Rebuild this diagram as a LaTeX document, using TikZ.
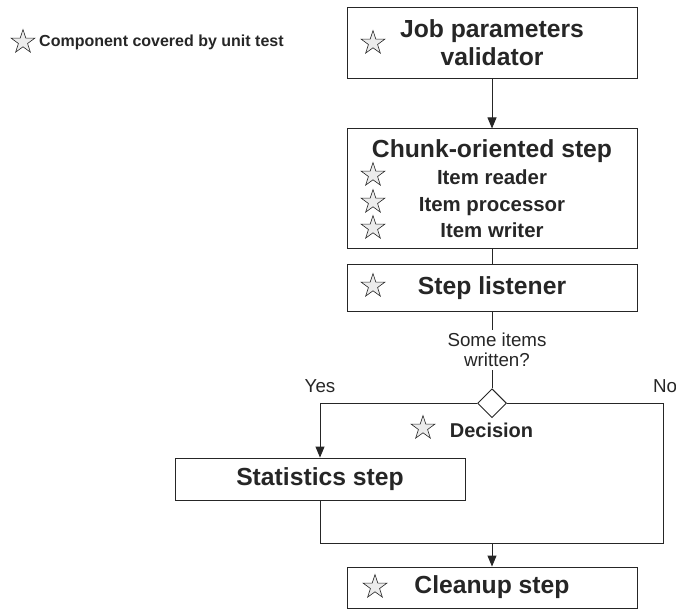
\documentclass[tikz,border=0pt]{standalone}
\usepackage{fontspec}
\setmainfont{Liberation Sans}
\usetikzlibrary{shapes.geometric, arrows.meta, positioning}

\begin{document}
\begin{tikzpicture}[x=1pt, y=-1pt,
  box/.style={rectangle, draw=black!85, line width=0.9pt, minimum width=290pt, inner sep=0pt, align=center, text=black!85, font=\bfseries\fontsize{24.7}{28}\selectfont},
  tick/.style={star, star points=5, star point ratio=2.6, draw=black!85, line width=0.6pt, fill=gray!15, minimum size=25pt, inner sep=0pt},
  decision/.style={diamond, aspect=1, draw=black!85, line width=0.9pt, minimum size=29pt, inner sep=0pt},
  lbl/.style={text=black!85, font=\fontsize{18.75}{20}\selectfont, inner sep=0pt, align=center},
  wire/.style={draw=black!85, line width=0.9pt},
  arrow/.style={wire, -{Triangle[length=11pt, width=9pt]}}]
  \useasboundingbox (0,0) rectangle (676,609);
  % legend
  \node[tick] (keystar) at (23,42) {};
  \node[lbl, anchor=base west, font=\bfseries\fontsize{16}{18}\selectfont] (keytext) at (39,46.7) {Component covered by unit test};
  % main column
  \node[box, minimum height=71pt] (job) at (492,42.5) {Job parameters\\validator};
  \node[box, minimum height=120pt, below=50pt of job, font=\bfseries\fontsize{20.4}{26.7}\selectfont] (chunk) {{\fontsize{24.7}{26.7}\selectfont Chunk-oriented step}\\Item reader\\Item processor\\Item writer};
  \node[box, minimum height=47pt, below=15pt of chunk] (listener) {Step listener};
  \node[decision, below=76pt of listener] (dec) {};
  \node[box, minimum height=42pt] (stats) at (320,479) {Statistics step};
  \node[box, minimum height=41pt] (cleanup) at (492,587.5) {Cleanup step};
  % stars
  \node[tick] (jobstar) at (373,43) {};
  \node[tick] (readstar) at (373,175) {};
  \node[tick] (procstar) at (373,202) {};
  \node[tick] (writestar) at (373,228) {};
  \node[tick] (liststar) at (373,286) {};
  \node[tick] (decstar) at (423,428) {};
  \node[tick] (cleanstar) at (375,587) {};
  \node[lbl, anchor=base, font=\bfseries\fontsize{20}{22}\selectfont] (declabel) at (491.5,437) {Decision};
  % connectors
  \coordinate (merge) at (492,543);
  \coordinate (nocorner) at (663,543);
  \draw[arrow] (job) -- (chunk);
  \draw[wire] (chunk) -- (listener);
  \draw[wire] (listener) -- node[lbl, fill=white, inner sep=3pt, xshift=5pt] {Some items\\written?} (dec);
  \draw[arrow] (dec.west) -| node[lbl, pos=0.5, above=10pt] {Yes} (stats.north);
  \draw[wire] (dec.east) -| node[lbl, pos=0.5, above=10pt, xshift=2pt] {No} (nocorner) -- (merge);
  \draw[wire] (stats.south) |- (merge);
  \draw[arrow] (merge) -- (cleanup);
\end{tikzpicture}
\end{document}
